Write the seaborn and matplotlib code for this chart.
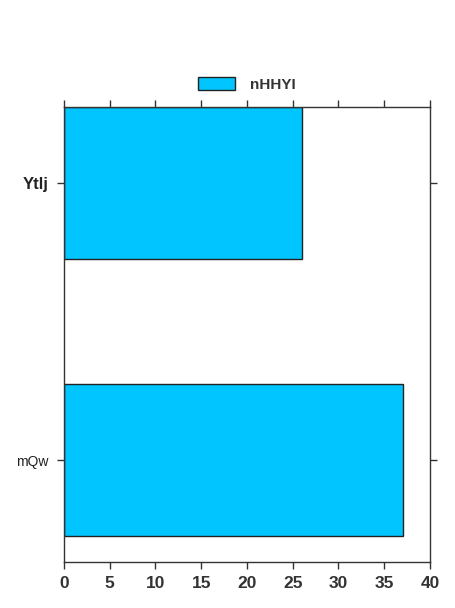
import pandas as pd
import numpy as np
import seaborn as sns
import matplotlib.pyplot as plt
from matplotlib.patches import Patch

categories = ["Ytlj", "mQw"]
values = [26, 37]
series_name = "nHHYI"
xticks = [0, 5, 10, 15, 20, 25, 30, 35, 40]

sns.set_style("white")
plt.rcParams['font.family'] = ['Liberation Sans', 'DejaVu Sans']

df = pd.DataFrame({"cat": categories, "val": values})

fig = plt.figure(figsize=(4.56, 6.08), dpi=100)
ax = fig.add_axes([0.140, 0.0757, 0.803, 0.7483])

sns.barplot(data=df, x="val", y="cat", orient="h", color="#00c5ff", saturation=1,
            edgecolor="#222222", linewidth=1, width=0.55, ax=ax)

ax.set_xlim(0, 40)
ax.set_ylim(1.368, -0.274)
ax.set_xticks(xticks)
ax.set_xticklabels([str(t) for t in xticks], fontsize=12.5, fontweight="bold", color="#333333")
ax.set_xlabel("")
ax.set_ylabel("")

labels = ax.get_yticklabels()
labels[0].set_fontweight("bold")
labels[0].set_fontsize(12)
labels[1].set_fontsize(10)
for l in labels:
    l.set_color("#222222")

for s in ax.spines.values():
    s.set_visible(True)
    s.set_color("#333333")
    s.set_linewidth(1)

ax.tick_params(axis="both", direction="out", length=5, width=1, color="#333333",
               top=True, right=True, bottom=True, left=True,
               labeltop=False, labelright=False)
ax.tick_params(axis="x", pad=5)
ax.tick_params(axis="y", pad=6)

handle = Patch(facecolor="#00c5ff", edgecolor="#222222", linewidth=1)
ax.legend([handle], [series_name], loc="lower center", bbox_to_anchor=(0.5, 1.003),
          frameon=False, prop={"weight": "bold", "size": 11},
          handlelength=2.4, handleheight=0.9, handletextpad=1.0, labelcolor="#333333")

fig.savefig("out.png", dpi=100)
